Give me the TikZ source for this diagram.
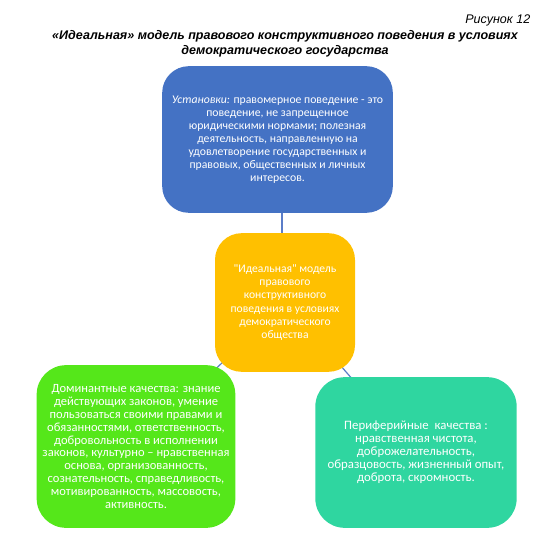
\documentclass[tikz,border=0pt]{standalone}
\usepackage{fontspec}
\setmainfont{Liberation Sans}
\newfontfamily\boxfont{Carlito}
\definecolor{ustblue}{HTML}{4472C4}
\definecolor{modelgold}{HTML}{FFC000}
\definecolor{domgreen}{HTML}{55E71A}
\definecolor{perteal}{HTML}{2FD6A0}
\definecolor{linkblue}{HTML}{5B7DC8}
\tikzset{
  qualbox/.style={rectangle,rounded corners=20pt,draw=none,text=white,align=center,
    font=\boxfont\fontsize{8.8pt}{9.7pt}\selectfont,inner sep=0pt},
  link/.style={draw=linkblue,line width=0.9pt}
}
\begin{document}
\begin{tikzpicture}[x=0.75pt,y=-0.75pt,line cap=round,line join=round]
  \useasboundingbox (0,0) rectangle (559,538);
  % heading
  \node[anchor=base east,font=\itshape\fontsize{9.4pt}{11pt}\selectfont] (fignum) at (535,24) {Рисунок 12};
  \node[align=center,font=\bfseries\itshape\fontsize{9.4pt}{11.25pt}\selectfont,anchor=north] (title) at (285,26)
    {«Идеальная» модель правового конструктивного поведения в условиях\\демократического государства};
  % connectors (behind the boxes)
  \coordinate (ust) at (282,139.5);
  \coordinate (mod) at (285,302);
  \coordinate (dom) at (136,446);
  \coordinate (per) at (416,452);
  \draw[link] (ust) -- (282,302);
  \draw[link] (mod) -- (dom);
  \draw[link] (mod) -- (per);
  % boxes
  \node[qualbox,fill=ustblue,minimum width=173pt,minimum height=110pt] (ustanovki) at (277.5,139.5)
    {\textit{Установки:} правомерное поведение - это\\поведение, не запрещенное\\юридическими нормами; полезная\\деятельность, направленную на\\удовлетворение государственных и\\правовых, общественных и личных\\интересов.};
  \node[qualbox,fill=modelgold,minimum width=105pt,minimum height=104pt,
    font=\boxfont\fontsize{8.7pt}{9.8pt}\selectfont] (model) at (285,302.5)
    {"Идеальная" модель\\правового\\конструктивного\\поведения в условиях\\демократического\\общества};
  \node[qualbox,fill=domgreen,minimum width=149pt,minimum height=122pt,rounded corners=22pt,
    font=\boxfont\fontsize{9.4pt}{9.7pt}\selectfont] (dominant) at (136,446.5)
    {Доминантные качества: знание\\действующих законов, умение\\пользоваться своими правами и\\обязанностями, ответственность,\\добровольность в исполнении\\законов, культурно – нравственная\\основа, организованность,\\сознательность, справедливость,\\мотивированность, массовость,\\активность.};
  \node[qualbox,fill=perteal,minimum width=151pt,minimum height=113pt,rounded corners=22pt,
    font=\boxfont\fontsize{9.6pt}{9.8pt}\selectfont] (periph) at (416,452.5)
    {Периферийные\ \ качества :\\нравственная чистота,\\доброжелательность,\\образцовость, жизненный опыт,\\доброта, скромность.};
\end{tikzpicture}
\end{document}
